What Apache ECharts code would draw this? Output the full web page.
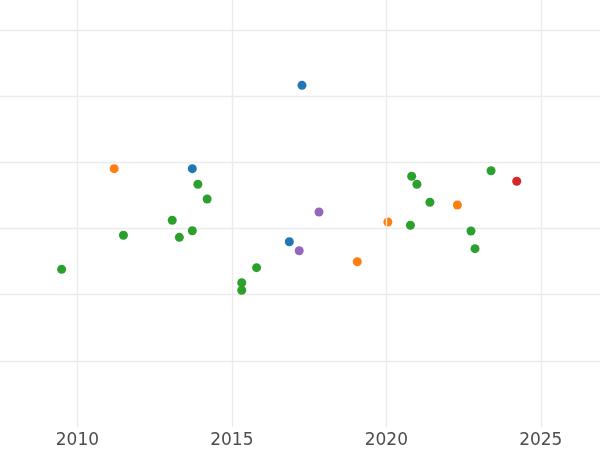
<!DOCTYPE html>
<html>
<head>
<meta charset="utf-8">
<script src="https://cdn.jsdelivr.net/npm/echarts@6/dist/echarts.min.js"></script>
<style>html,body{margin:0;padding:0;background:#fff}#c{width:600px;height:450px}</style>
</head>
<body>
<div id="c"></div>
<script>
// x tick labels
const xTicks = [2010, 2015, 2020, 2025];
// series values: [year, value]
const blueData = [[2013.72,3.902],[2017.27,5.161],[2016.86,2.799]];
const orangeData = [[2011.19,3.902],[2019.06,2.497],[2020.05,3.097],[2022.30,3.354]];
const greenData = [[2009.49,2.382],[2011.49,2.896],[2013.07,3.123],[2013.30,2.865],[2013.72,2.965],[2013.90,3.666],[2014.20,3.444],[2015.32,2.179],[2015.32,2.065],[2015.80,2.407],[2020.78,3.047],[2020.82,3.787],[2020.99,3.666],[2021.41,3.395],[2022.74,2.961],[2022.87,2.694],[2023.39,3.871]];
const redData = [[2024.22,3.712]];
const purpleData = [[2017.18,2.663],[2017.82,3.248]];
const seriesNames = ['Group A','Group B','Group C','Group D','Group E'];
const seriesColors = ['#1f77b4','#ff7f0e','#2ca02c','#d62728','#9467bd'];

const chart = echarts.init(document.getElementById('c'), null, {renderer:'canvas'});
const allData = [blueData, orangeData, greenData, redData, purpleData];
const gridStyle = {color: '#ebebeb', width: 1.4, type: 'solid'};
const series = [{
  name: 'grid', type: 'line', data: [], z: 1, silent: true,
  markLine: {
    silent: true, symbol: ['none','none'], label: {show: false},
    lineStyle: gridStyle, animation: false,
    data: xTicks.map(v => ({xAxis: v}))
  }
}].concat(allData.map((d, i) => ({
  name: seriesNames[i], type: 'scatter', data: d, symbolSize: 9, z: 3,
  itemStyle: {color: seriesColors[i], opacity: 1}
})));
chart.setOption({
  animation: false,
  backgroundColor: '#ffffff',
  grid: {left: 0, right: 0, top: 0, bottom: 23, containLabel: false},
  xAxis: {
    type: 'value', min: 2007.495, max: 2026.916,
    axisLine: {show: false}, axisTick: {show: false},
    axisLabel: {
      color: '#4d4d4d', fontFamily: 'DejaVu Sans', fontSize: 17, margin: 5,
      customValues: xTicks, formatter: v => String(v)
    },
    splitLine: {show: false}
  },
  yAxis: {
    type: 'value', min: 0, max: 6.45, interval: 1,
    axisLine: {show: false}, axisTick: {show: false}, axisLabel: {show: false},
    splitLine: {show: true, showMinLine: false, showMaxLine: false, lineStyle: gridStyle}
  },
  series: series
});
</script>
</body>
</html>
